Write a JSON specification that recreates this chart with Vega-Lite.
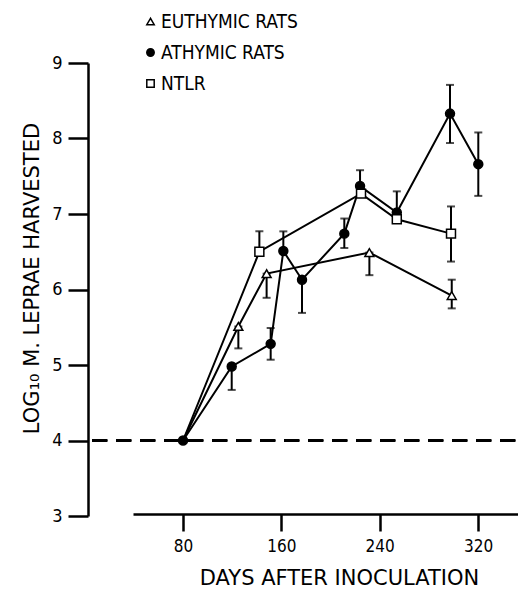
{
  "$schema": "https://vega.github.io/schema/vega-lite/v6.json",
  "autosize": {"type": "none"},
  "padding": {"left": 133, "top": 63, "right": 0, "bottom": 75},
  "width": 385,
  "height": 453,
  "background": "white",
  "config": {
    "view": {"stroke": null},
    "font": "DejaVu Sans"
  },
  "data": {
    "values": [
      {"group": "EUTHYMIC RATS", "day": 80, "value": 4.0},
      {"group": "EUTHYMIC RATS", "day": 125, "value": 5.51, "lo": 5.22, "hi": 5.51},
      {"group": "EUTHYMIC RATS", "day": 148, "value": 6.21, "lo": 5.89, "hi": 6.21},
      {"group": "EUTHYMIC RATS", "day": 231.6, "value": 6.49, "lo": 6.19, "hi": 6.49},
      {"group": "EUTHYMIC RATS", "day": 298.6, "value": 5.92, "lo": 5.75, "hi": 6.13},
      {"group": "ATHYMIC RATS", "day": 80, "value": 4.0},
      {"group": "ATHYMIC RATS", "day": 119.6, "value": 4.98, "lo": 4.67, "hi": 4.98},
      {"group": "ATHYMIC RATS", "day": 151.3, "value": 5.28, "lo": 5.07, "hi": 5.49},
      {"group": "ATHYMIC RATS", "day": 161.6, "value": 6.51, "lo": 6.51, "hi": 6.77},
      {"group": "ATHYMIC RATS", "day": 176.8, "value": 6.13, "lo": 5.69, "hi": 6.13},
      {"group": "ATHYMIC RATS", "day": 211.2, "value": 6.74, "lo": 6.55, "hi": 6.94},
      {"group": "ATHYMIC RATS", "day": 224, "value": 7.37, "lo": 7.37, "hi": 7.58},
      {"group": "ATHYMIC RATS", "day": 253.9, "value": 7.02, "lo": 7.02, "hi": 7.30},
      {"group": "ATHYMIC RATS", "day": 297.2, "value": 8.33, "lo": 7.94, "hi": 8.71},
      {"group": "ATHYMIC RATS", "day": 320.2, "value": 7.66, "lo": 7.24, "hi": 8.08},
      {"group": "NTLR", "day": 80, "value": 4.0},
      {"group": "NTLR", "day": 142.1, "value": 6.50, "lo": 6.50, "hi": 6.77},
      {"group": "NTLR", "day": 224.8, "value": 7.27},
      {"group": "NTLR", "day": 253.9, "value": 6.93},
      {"group": "NTLR", "day": 298, "value": 6.74, "lo": 6.37, "hi": 7.10}
    ]
  },
  "layer": [
    {
      "mark": {"type": "rule", "strokeDash": [15, 9], "strokeWidth": 2, "color": "black", "clip": false},
      "encoding": {
        "x": {"datum": 6, "type": "quantitative"},
        "x2": {"datum": 352.5},
        "y": {"datum": 4, "type": "quantitative"}
      }
    },
    {
      "mark": {"type": "line", "color": "black", "strokeWidth": 2},
      "encoding": {
        "x": {
          "field": "day", "type": "quantitative",
          "title": "DAYS AFTER INOCULATION",
          "scale": {"domain": [39.3, 352.5], "nice": false, "zero": false},
          "axis": {
            "values": [80, 160, 240, 320],
            "titleFont": "DejaVu Sans", "titleFontSize": 21, "titleFontWeight": "normal", "titleColor": "black",
            "titleX": 206, "titleY": 64, "titleBaseline": "middle", "titleAnchor": "start", "titleAlign": "center",
            "labelFont": "DejaVu Sans Condensed, DejaVu Sans", "labelFontSize": 17, "labelColor": "black", "labelPadding": 7,
            "domainColor": "black", "domainWidth": 2.5, "tickColor": "black", "tickWidth": 2.5, "tickSize": 17,
            "grid": false, "offset": -2
          }
        },
        "y": {
          "field": "value", "type": "quantitative",
          "title": "LOG₁₀ M. LEPRAE HARVESTED",
          "scale": {"domain": [3, 9], "nice": false, "zero": false},
          "axis": {
            "values": [3, 4, 5, 6, 7, 8, 9], "format": "d",
            "titleFont": "DejaVu Sans", "titleFontSize": 21, "titleFontWeight": "normal", "titleColor": "black",
            "titleX": -56, "titleY": 215, "titleAngle": 270, "titleBaseline": "middle", "titleAlign": "center", "titleAnchor": "start",
            "labelFont": "DejaVu Sans Condensed, DejaVu Sans", "labelFontSize": 18, "labelColor": "black", "labelPadding": 6,
            "domainColor": "black", "domainWidth": 2.5, "tickColor": "black", "tickWidth": 2.5, "tickSize": 20,
            "grid": false, "offset": 45
          }
        },
        "detail": {"field": "group"}
      }
    },
    {
      "transform": [{"filter": "isValid(datum.lo)"}],
      "mark": {"type": "errorbar", "ticks": {"size": 8, "thickness": 2, "color": "black"}, "rule": {"strokeWidth": 2, "color": "black"}},
      "encoding": {
        "x": {"field": "day", "type": "quantitative", "title": "DAYS AFTER INOCULATION"},
        "y": {"field": "lo", "type": "quantitative", "title": "LOG₁₀ M. LEPRAE HARVESTED"},
        "y2": {"field": "hi"}
      }
    },
    {
      "transform": [{"filter": "datum.day > 80 || datum.group == 'ATHYMIC RATS'"}],
      "mark": {"type": "point", "filled": false, "stroke": "black", "strokeWidth": 1.5, "size": 80, "opacity": 1},
      "encoding": {
        "x": {"field": "day", "type": "quantitative", "title": "DAYS AFTER INOCULATION"},
        "y": {"field": "value", "type": "quantitative", "title": "LOG₁₀ M. LEPRAE HARVESTED"},
        "shape": {
          "field": "group", "type": "nominal",
          "scale": {"domain": ["EUTHYMIC RATS", "ATHYMIC RATS", "NTLR"], "range": ["triangle-up", "circle", "square"]},
          "legend": {
            "title": null, "orient": "none", "legendX": 8, "legendY": -51,
            "labelFont": "DejaVu Sans Condensed, DejaVu Sans", "labelFontSize": 19, "labelColor": "black",
            "symbolSize": 55, "rowPadding": 11, "labelOffset": 1,
            "encode": {"symbols": {"update": {"stroke": {"value": "black"}, "strokeWidth": {"value": 1.5}}}}
          }
        },
        "fill": {
          "field": "group", "type": "nominal",
          "scale": {"domain": ["EUTHYMIC RATS", "ATHYMIC RATS", "NTLR"], "range": ["white", "black", "white"]},
          "legend": {
            "title": null, "orient": "none", "legendX": 8, "legendY": -51,
            "labelFont": "DejaVu Sans Condensed, DejaVu Sans", "labelFontSize": 19, "labelColor": "black",
            "symbolSize": 55, "rowPadding": 11, "labelOffset": 1,
            "encode": {"symbols": {"update": {"stroke": {"value": "black"}, "strokeWidth": {"value": 1.5}}}}
          }
        }
      }
    }
  ]
}
